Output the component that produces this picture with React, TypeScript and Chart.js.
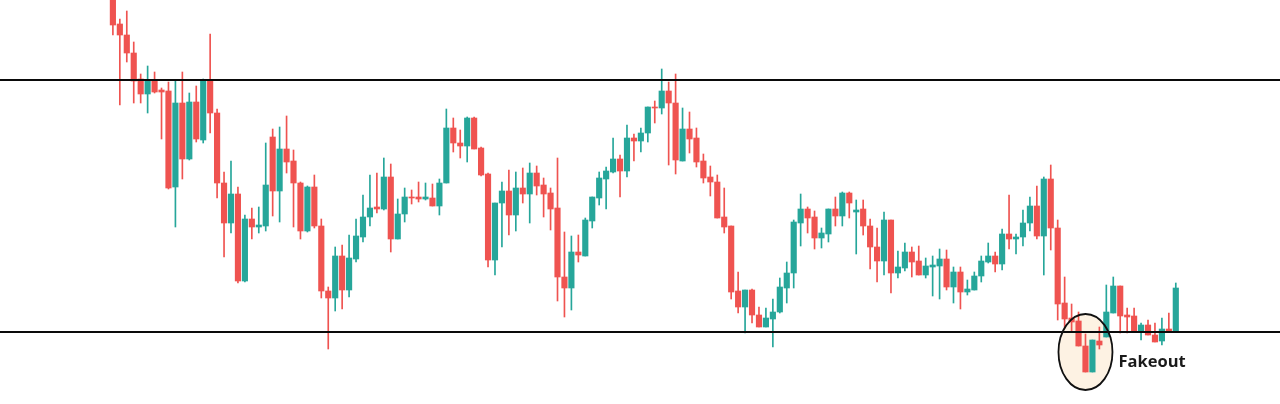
import { useEffect, useRef } from "react";
import { Chart, registerables } from "chart.js";

Chart.register(...registerables);

// OHLC series (price units), one entry per candle
const opens = [
  402, 376, 365, 347, 321, 306, 320, 310, 309, 213,
  297, 241, 298, 260, 319, 287, 217, 177, 206, 119,
  181, 173, 174, 263, 209, 251, 239, 217, 169, 213,
  174, 109, 102, 144, 110, 141, 163, 183, 193, 191,
  223, 161, 186, 203, 203, 201, 202, 194, 217, 272,
  257, 254, 282, 252, 226, 140, 197, 209, 185, 212,
  206, 227, 215, 207, 192, 123, 112, 148, 144, 179,
  202, 221, 228, 241, 229, 262, 259, 267, 293, 292,
  309, 297, 239, 271, 262, 239, 223, 218, 183, 174,
  109, 93, 110, 85, 73, 81, 88, 112, 127, 177,
  191, 183, 162, 166, 191, 184, 207, 188, 191, 174,
  153, 139, 180, 127, 132, 148, 139, 125, 133, 134,
  141, 113, 128, 108, 110, 124, 138, 144, 136, 166,
  161, 163, 177, 194, 164, 221, 172, 97, 82, 79,
  54, 28, 59, 63, 87, 114, 85, 84, 69, 75,
  65, 59, 71, 68,
];

const highs = [
  410, 381, 389, 358, 326, 334, 328, 312, 318, 320,
  328, 307, 314, 321, 366, 291, 228, 239, 213, 185,
  192, 193, 257, 271, 273, 284, 250, 218, 214, 225,
  181, 113, 153, 155, 165, 181, 205, 225, 227, 242,
  236, 201, 212, 210, 218, 217, 216, 221, 291, 282,
  270, 283, 283, 253, 227, 197, 218, 230, 228, 232,
  237, 234, 222, 212, 242, 168, 164, 165, 182, 203,
  228, 233, 262, 245, 275, 266, 272, 293, 299, 331,
  318, 326, 292, 288, 272, 246, 234, 225, 212, 174,
  128, 110, 111, 93, 92, 101, 122, 138, 180, 206,
  193, 189, 172, 191, 203, 208, 208, 200, 200, 181,
  172, 188, 180, 149, 157, 153, 154, 142, 144, 151,
  150, 133, 133, 120, 128, 144, 157, 148, 171, 205,
  166, 190, 203, 214, 223, 235, 180, 123, 96, 88,
  66, 60, 73, 115, 123, 114, 92, 92, 77, 80,
  77, 82, 87, 117,
];

const lows = [
  365, 295, 338, 297, 297, 287, 307, 261, 211, 173,
  221, 240, 258, 257, 267, 202, 143, 167, 117, 118,
  161, 167, 169, 184, 178, 227, 173, 161, 168, 172,
  102, 51, 89, 91, 103, 138, 158, 174, 187, 190,
  148, 161, 178, 196, 198, 200, 194, 185, 217, 248,
  242, 238, 251, 224, 133, 125, 153, 165, 169, 197,
  177, 205, 183, 170, 99, 83, 90, 138, 144, 172,
  195, 191, 227, 203, 223, 239, 248, 258, 277, 286,
  235, 226, 239, 247, 233, 217, 204, 182, 167, 101,
  87, 67, 77, 73, 73, 53, 87, 97, 112, 154,
  167, 151, 152, 158, 174, 174, 182, 146, 165, 131,
  118, 125, 107, 122, 129, 123, 125, 122, 104, 101,
  110, 97, 91, 105, 110, 118, 137, 128, 130, 151,
  146, 154, 169, 161, 125, 150, 80, 72, 68, 54,
  28, 28, 51, 63, 87, 67, 67, 68, 60, 65,
  58, 55, 68, 68,
];

const closes = [
  375, 365, 347, 319, 306, 320, 308, 308, 212, 297,
  241, 298, 261, 319, 287, 217, 177, 206, 119, 181,
  173, 175, 215, 209, 251, 238, 217, 169, 213, 174,
  109, 102, 144, 110, 142, 164, 183, 192, 191, 223,
  161, 186, 203, 202, 201, 203, 194, 217, 272, 257,
  254, 282, 251, 225, 140, 197, 209, 185, 212, 206,
  227, 214, 206, 191, 123, 112, 148, 145, 180, 203,
  222, 229, 241, 229, 262, 259, 267, 293, 292, 309,
  297, 240, 271, 261, 238, 222, 218, 182, 173, 108,
  93, 110, 85, 73, 82, 88, 113, 127, 178, 191,
  182, 162, 167, 191, 184, 207, 197, 190, 174, 153,
  139, 180, 127, 133, 148, 138, 125, 134, 135, 141,
  113, 128, 108, 111, 124, 139, 144, 136, 166, 161,
  163, 177, 194, 164, 221, 172, 96, 81, 78, 54,
  28, 60, 55, 88, 114, 84, 83, 68, 75, 65,
  58, 71, 68, 112,
];

// Horizontal range levels (resistance, support)
const levels = [320, 68];

// Fakeout annotation (candle index, price of centre, label baseline price)
const fakeoutIndex = 140;
const fakeoutValue = 48;
const fakeoutLabelValue = 33;
const fakeoutLabel = "Fakeout";

const UP = "#26a69a";
const DOWN = "#ef5350";

export default function App() {
  const ref = useRef<HTMLCanvasElement>(null);

  useEffect(() => {
    document.body.style.margin = "0";
    const idx = opens.map((_, i) => i);
    const colors = idx.map((i) => (closes[i] >= opens[i] ? UP : DOWN));

    const annot = {
      id: "annot",
      beforeDatasetsDraw(c: any) {
        const ctx = c.ctx;
        const cx = c.scales.x.getPixelForValue(fakeoutIndex);
        const cy = c.scales.y.getPixelForValue(fakeoutValue);
        ctx.save();
        ctx.beginPath();
        ctx.ellipse(cx, cy, 27, 38, 0, 0, Math.PI * 2);
        ctx.fillStyle = "#fdf2e3";
        ctx.fill();
        ctx.restore();
      },
      afterDatasetsDraw(c: any) {
        const ctx = c.ctx;
        const { left, right } = c.chartArea;
        ctx.save();
        ctx.strokeStyle = "#0a0a0a";
        ctx.lineWidth = 2;
        levels.forEach((lv) => {
          const y = c.scales.y.getPixelForValue(lv);
          ctx.beginPath();
          ctx.moveTo(left, y);
          ctx.lineTo(right, y);
          ctx.stroke();
        });
        const cx = c.scales.x.getPixelForValue(fakeoutIndex);
        const cy = c.scales.y.getPixelForValue(fakeoutValue);
        ctx.beginPath();
        ctx.ellipse(cx, cy, 27, 38, 0, 0, Math.PI * 2);
        ctx.lineWidth = 1.8;
        ctx.strokeStyle = "#111";
        ctx.stroke();
        ctx.fillStyle = "#1a1a1a";
        ctx.font = "bold 16.5px 'Open Sans', sans-serif";
        ctx.textBaseline = "alphabetic";
        ctx.fillText(fakeoutLabel, cx + 33, c.scales.y.getPixelForValue(fakeoutLabelValue));
        ctx.restore();
      },
    };

    const chart = new Chart(ref.current!, {
      type: "bar",
      data: {
        datasets: [
          {
            label: "wick",
            data: idx.map((i) => ({ x: i, y: [lows[i], highs[i]] })) as any,
            backgroundColor: colors,
            barThickness: 1,
            grouped: false,
            order: 2,
          } as any,
          {
            label: "body",
            data: idx.map((i) => ({ x: i, y: [opens[i], closes[i]] })) as any,
            backgroundColor: colors,
            barThickness: 5.5,
            grouped: false,
            order: 1,
          } as any,
        ],
      },
      options: {
        animation: false,
        responsive: false,
        devicePixelRatio: 1,
        layout: { padding: 0 },
        plugins: { legend: { display: false }, tooltip: { enabled: false } },
        scales: {
          x: { type: "linear", min: -16.25, max: 168, offset: false, display: false },
          y: { type: "linear", min: -4, max: 400, display: false },
        },
      },
      plugins: [annot],
    });
    return () => chart.destroy();
  }, []);

  return (
    <div style={{ width: 1280, height: 404 }}>
      <canvas ref={ref} width={1280} height={404} style={{ display: "block" }} />
    </div>
  );
}
